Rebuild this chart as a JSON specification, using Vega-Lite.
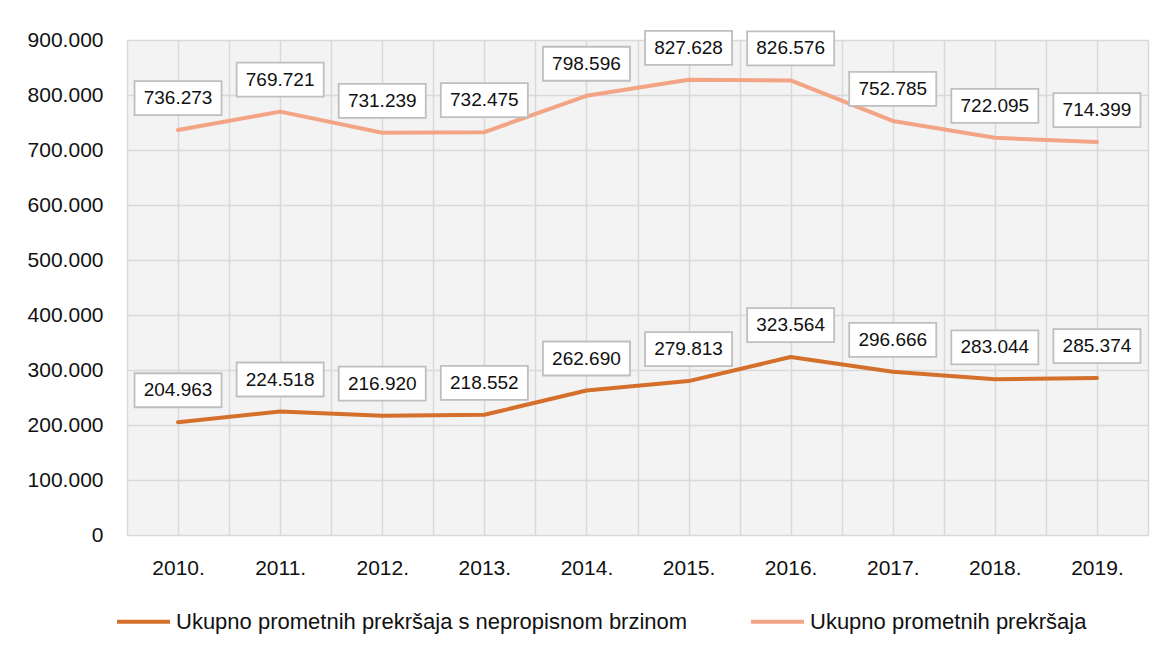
{
  "$schema": "https://vega.github.io/schema/vega-lite/v6.json",
  "autosize": {"type": "none"},
  "padding": {"left": 127, "top": 40, "right": 18, "bottom": 117},
  "width": 1021,
  "height": 495,
  "background": "white",
  "config": {
    "locale": {"number": {"decimal": ",", "thousands": ".", "grouping": [3], "currency": ["", ""]}},
    "view": {"stroke": null, "fill": "#f3f3f3"},
    "font": "Liberation Sans",
    "axis": {"labelColor": "#111111", "gridColor": "#d9d9d9", "gridWidth": 1.5, "ticks": false, "domain": false, "title": null, "labelFont": "Liberation Sans"}
  },
  "data": {
    "values": [
      {"year": 2010, "series": "Ukupno prometnih prekršaja s nepropisnom brzinom", "value": 204963},
      {"year": 2011, "series": "Ukupno prometnih prekršaja s nepropisnom brzinom", "value": 224518},
      {"year": 2012, "series": "Ukupno prometnih prekršaja s nepropisnom brzinom", "value": 216920},
      {"year": 2013, "series": "Ukupno prometnih prekršaja s nepropisnom brzinom", "value": 218552},
      {"year": 2014, "series": "Ukupno prometnih prekršaja s nepropisnom brzinom", "value": 262690},
      {"year": 2015, "series": "Ukupno prometnih prekršaja s nepropisnom brzinom", "value": 279813},
      {"year": 2016, "series": "Ukupno prometnih prekršaja s nepropisnom brzinom", "value": 323564},
      {"year": 2017, "series": "Ukupno prometnih prekršaja s nepropisnom brzinom", "value": 296666},
      {"year": 2018, "series": "Ukupno prometnih prekršaja s nepropisnom brzinom", "value": 283044},
      {"year": 2019, "series": "Ukupno prometnih prekršaja s nepropisnom brzinom", "value": 285374},
      {"year": 2010, "series": "Ukupno prometnih prekršaja", "value": 736273},
      {"year": 2011, "series": "Ukupno prometnih prekršaja", "value": 769721},
      {"year": 2012, "series": "Ukupno prometnih prekršaja", "value": 731239},
      {"year": 2013, "series": "Ukupno prometnih prekršaja", "value": 732475},
      {"year": 2014, "series": "Ukupno prometnih prekršaja", "value": 798596},
      {"year": 2015, "series": "Ukupno prometnih prekršaja", "value": 827628},
      {"year": 2016, "series": "Ukupno prometnih prekršaja", "value": 826576},
      {"year": 2017, "series": "Ukupno prometnih prekršaja", "value": 752785},
      {"year": 2018, "series": "Ukupno prometnih prekršaja", "value": 722095},
      {"year": 2019, "series": "Ukupno prometnih prekršaja", "value": 714399}
    ]
  },
  "encoding": {
    "x": {
      "field": "year",
      "type": "quantitative",
      "scale": {"domain": [2009.5, 2019.5], "nice": false, "zero": false},
      "axis": {
        "values": [2009.5, 2010, 2010.5, 2011, 2011.5, 2012, 2012.5, 2013, 2013.5, 2014, 2014.5, 2015, 2015.5, 2016, 2016.5, 2017, 2017.5, 2018, 2018.5, 2019, 2019.5],
        "labelExpr": "datum.value % 1 === 0 ? datum.value + '.' : ''",
        "labelFontSize": 21,
        "labelPadding": 33,
        "labelBaseline": "middle",
        "labelFlush": false,
        "labelOverlap": false
      }
    },
    "y": {
      "field": "value",
      "type": "quantitative",
      "scale": {"domain": [0, 900000], "nice": false},
      "axis": {
        "values": [0, 100000, 200000, 300000, 400000, 500000, 600000, 700000, 800000, 900000],
        "format": ",d",
        "labelFontSize": 21,
        "labelPadding": 24,
        "labelOverlap": false
      }
    }
  },
  "layer": [
    {
      "mark": {"type": "line", "strokeWidth": 4, "strokeCap": "round", "strokeJoin": "round"},
      "encoding": {
        "color": {
          "field": "series",
          "type": "nominal",
          "scale": {
            "domain": ["Ukupno prometnih prekršaja s nepropisnom brzinom", "Ukupno prometnih prekršaja"],
            "range": ["#d4702c", "#f3a485"]
          },
          "legend": {
            "orient": "none",
            "legendX": -12,
            "legendY": 553,
            "direction": "horizontal",
            "title": null,
            "symbolType": "stroke",
            "symbolSize": 2809,
            "symbolStrokeWidth": 4,
            "labelFontSize": 22,
            "labelFont": "Liberation Sans",
            "labelColor": "#111111",
            "labelOffset": 4,
            "columnPadding": 55,
            "labelLimit": 1000
          }
        }
      }
    },
    {
      "mark": {
        "type": "point",
        "shape": "M-1.28,-0.5H1.28V0.5H-1.28Z",
        "size": 4624,
        "filled": true,
        "fill": "white",
        "stroke": "#bfbfbf",
        "strokeWidth": 1.8,
        "opacity": 1,
        "yOffset": -32
      }
    },
    {
      "mark": {"type": "text", "fontSize": 19, "yOffset": -32, "baseline": "middle", "align": "center", "color": "#111111", "font": "Liberation Sans"},
      "encoding": {"text": {"field": "value", "type": "quantitative", "format": ",d"}}
    }
  ]
}
